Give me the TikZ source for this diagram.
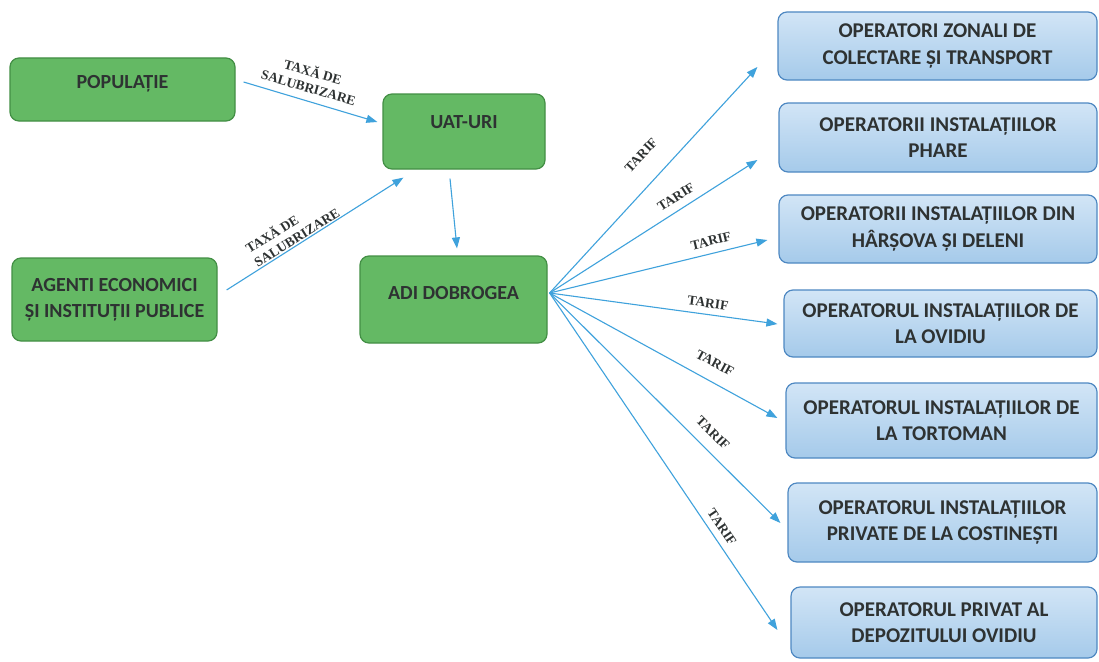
\documentclass[tikz,border=0pt]{standalone}
\usepackage{fontspec}
\setmainfont{Carlito}
\newfontfamily\labelfont{Liberation Serif}
\usetikzlibrary{arrows.meta}
\definecolor{gfill}{HTML}{64B964}
\definecolor{gborder}{HTML}{438F45}
\definecolor{btop}{HTML}{D2E5F6}
\definecolor{bbot}{HTML}{A5CAEA}
\definecolor{bborder}{HTML}{4E88C2}
\definecolor{acol}{HTML}{3FA2DC}
\definecolor{txt}{HTML}{2E3232}
\begin{document}
\begin{tikzpicture}[x=1pt,y=-1pt,
  gbox/.style={draw=gborder, fill=gfill, rounded corners=9pt, line width=1.2pt,
    font=\fontsize{20}{26}\selectfont\bfseries, text=txt, inner sep=0pt, align=center},
  bbox/.style={draw=bborder, top color=btop, bottom color=bbot, rounded corners=9pt, line width=1.2pt,
    font=\fontsize{21}{26.5}\selectfont\bfseries, text=txt, inner sep=0pt, align=center},
  arr/.style={draw=acol, line width=1.1pt, -{Triangle[length=11pt,width=8pt]}},
  lab/.style={font=\labelfont\bfseries\fontsize{13.5}{16}\selectfont, text=txt, inner sep=0pt}]
\useasboundingbox (0,0) rectangle (1099,661);
\fill[white] (0,0) rectangle (1099,661);

% green boxes
\node[gbox, minimum width=225pt, minimum height=63pt] (pop) at (122.5,89.5)
  {\raisebox{6pt}[\height][\depth]{POPULAȚIE}};
\node[gbox, minimum width=162pt, minimum height=75pt] (uat) at (464,131.5)
  {\raisebox{9.5pt}[\height][\depth]{UAT-URI}};
\node[gbox, minimum width=205pt, minimum height=83pt] (agenti) at (114.5,299.5)
  {AGENTI ECONOMICI\\ȘI INSTITUȚII PUBLICE};
\node[gbox, minimum width=187pt, minimum height=87pt] (adi) at (453.5,299.5)
  {\raisebox{6.5pt}[\height][\depth]{ADI DOBROGEA}};

% blue boxes
\node[bbox, minimum width=319pt, minimum height=68pt] (b1) at (937.5,46)
  {OPERATORI ZONALI DE\\COLECTARE ȘI TRANSPORT};
\node[bbox, minimum width=318pt, minimum height=69pt] (b2) at (938,137.5)
  {OPERATORII INSTALAȚIILOR\\PHARE};
\node[bbox, minimum width=318pt, minimum height=68pt] (b3) at (938,229)
  {OPERATORII INSTALAȚIILOR DIN\\HÂRȘOVA ȘI DELENI};
\node[bbox, minimum width=313pt, minimum height=67pt] (b4) at (940.5,323.5)
  {OPERATORUL INSTALAȚIILOR DE\\LA OVIDIU};
\node[bbox, minimum width=311pt, minimum height=75pt] (b5) at (941.5,420.5)
  {OPERATORUL INSTALAȚIILOR DE\\LA TORTOMAN};
\node[bbox, minimum width=309pt, minimum height=79pt] (b6) at (942.5,522.5)
  {OPERATORUL INSTALAȚIILOR\\PRIVATE DE LA COSTINEȘTI};
\node[bbox, minimum width=306pt, minimum height=71pt] (b7) at (944,622.5)
  {OPERATORUL PRIVAT AL\\DEPOZITULUI OVIDIU};

% left arrows
\draw[arr] ([xshift=8pt,yshift=7.5pt]pop.east) -- ([xshift=-5pt,yshift=9.5pt]uat.west);
\draw[arr] ([xshift=9pt,yshift=9.5pt]agenti.east) -- ([xshift=21pt,yshift=-8pt]uat.south west);
\draw[arr] ([xshift=-14pt,yshift=-9pt]uat.south) -- ([xshift=3.5pt,yshift=7pt]adi.north);

\node[lab, rotate=-16, align=center] (tx1) at (311,79) {TAXĂ DE\\SALUBRIZARE};
\node[lab, rotate=32, align=left] (tx2) at (292,230) {TAXĂ DE\\SALUBRIZARE};

% right arrows
\coordinate (hub) at ([xshift=2pt,yshift=6.5pt]adi.east);
\draw[arr] (hub) -- ([xshift=-20pt,yshift=-21pt]b1.west);
\draw[arr] (hub) -- ([xshift=-21pt,yshift=-22.5pt]b2.west);
\draw[arr] (hub) -- ([xshift=-11pt,yshift=-11pt]b3.west);
\draw[arr] (hub) -- ([xshift=-6pt,yshift=-0.5pt]b4.west);
\draw[arr] (hub) -- ([xshift=-8pt,yshift=2.5pt]b5.west);
\draw[arr] (hub) -- ([xshift=-7pt,yshift=-0.5pt]b6.west);
\draw[arr] (hub) -- ([xshift=-13pt,yshift=-7.5pt]b7.west);

\node[lab, rotate=47] (r1) at (641,155) {TARIF};
\node[lab, rotate=32.5] (r2) at (676,197) {TARIF};
\node[lab, rotate=13.5] (r3) at (711,241) {TARIF};
\node[lab, rotate=-7.7] (r4) at (708,303) {TARIF};
\node[lab, rotate=-28.6] (r5) at (715,363) {TARIF};
\node[lab, rotate=-44.7] (r6) at (713,433) {TARIF};
\node[lab, rotate=-55.8] (r7) at (722,527) {TARIF};
\end{tikzpicture}
\end{document}
